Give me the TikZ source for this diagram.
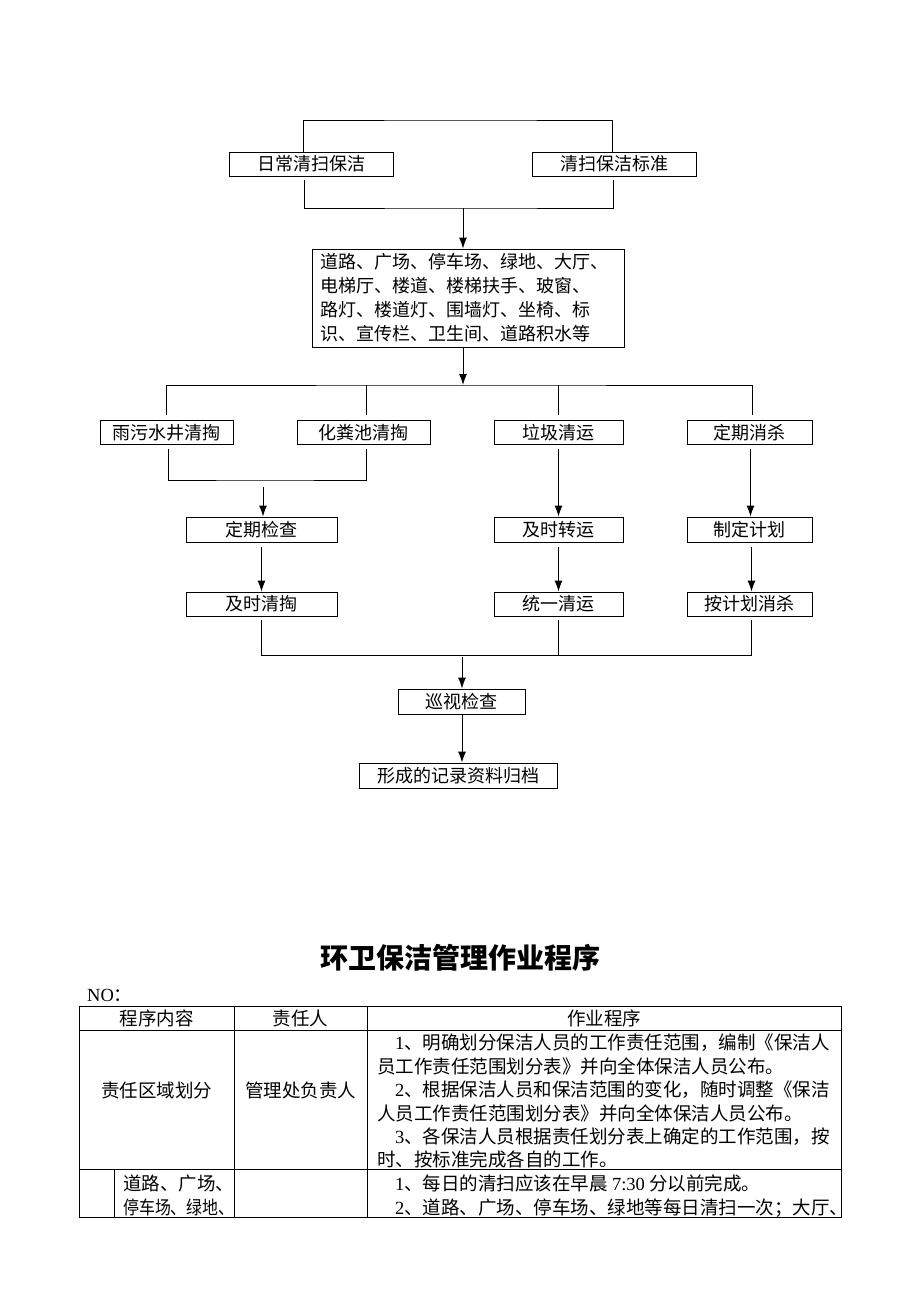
\documentclass[tikz,border=0pt]{standalone}
\usepackage{fontspec}
\setmainfont{Liberation Serif}
\newfontfamily\cjk{Noto Sans CJK SC}
\usetikzlibrary{shapes,arrows.meta,positioning,calc}
\newcommand{\lat}[1]{{\rmfamily #1}}

\begin{document}
\begin{tikzpicture}[x=1pt,y=-1pt]
\tikzstyle{box} = [rectangle, draw, line width=0.8pt, minimum height=24pt, inner sep=0pt, font=\cjk\fontsize{18pt}{24pt}\selectfont]
\tikzstyle{line} = [draw, line width=1pt]
\tikzstyle{flow} = [draw, line width=1pt, -{Latex[length=11pt,width=8pt]}]
\tikzstyle{cell} = [inner sep=0pt, font=\cjk\fontsize{18.5pt}{23.4pt}\selectfont]
\tikzstyle{para} = [cell, align=left, anchor=north west]

\useasboundingbox (0,0) rectangle (920,1302);

% Two starting boxes
\node [box, minimum width=164pt] (daily) at (311,164) {日常清扫保洁};
\node [box, minimum width=164pt] (std) at (614,164) {清扫保洁标准};
\coordinate (topbar) at (463,120);
\coordinate (merge1) at (463,208);
\draw [line] ([xshift=-8pt]daily.north) |- (topbar) -| ([xshift=-2pt]std.north);
\draw [line] ([xshift=-7pt,yshift=-4pt]daily.south) |- (merge1) -| ([xshift=-1pt,yshift=-4pt]std.south);

% Cleaning areas
\node [box, minimum width=312pt, minimum height=98pt, text width=296pt, inner xsep=8pt, align=left] (area) at (468,298)
  {道路、广场、停车场、绿地、大厅、\\电梯厅、楼道、楼梯扶手、玻窗、\\路灯、楼道灯、围墙灯、坐椅、标\\识、宣传栏、卫生间、道路积水等};
\draw [flow] (merge1) -- (merge1 |- area.north);

% Four branches
\node [box, minimum width=133pt] (sewer) at (166.5,432.5) {雨污水井清掏};
\node [box, minimum width=133pt] (septic) at (363.5,432.5) {化粪池清掏};
\node [box, minimum width=129pt] (garbage) at (558.5,432.5) {垃圾清运};
\node [box, minimum width=125pt] (disinfect) at (749.5,432.5) {定期消杀};
\coordinate (split) at (463,385);
\draw [flow] (split |- area.south) -- (split);
\draw [line, shorten <=5pt] (sewer.north) |- (split) -| ([xshift=2.5pt,yshift=5pt]disinfect.north);
\draw [line, shorten <=5pt] ([xshift=2.5pt]septic.north) -- ([xshift=2.5pt]septic.north |- split);
\draw [line, shorten <=5pt] (garbage.north) -- (garbage.north |- split);

% Second and third rows
\node [box, minimum width=151pt, minimum height=25pt] (inspect) at (261.5,529.5) {定期检查};
\node [box, minimum width=151pt] (dredge) at (261.5,604) {及时清掏};
\node [box, minimum width=129pt, minimum height=25pt] (transfer) at (558.5,529.5) {及时转运};
\node [box, minimum width=129pt] (haul) at (558.5,604) {统一清运};
\node [box, minimum width=125pt, minimum height=25pt] (plan) at (749.5,529.5) {制定计划};
\node [box, minimum width=125pt] (kill) at (749.5,604) {按计划消杀};

\coordinate (merge2) at (263,480);
\draw [line] ([xshift=1.5pt,yshift=-4pt]sewer.south) |- (merge2) -| ([xshift=2.5pt,yshift=-4pt]septic.south);
\draw [flow, shorten <=7pt] (merge2) -- (merge2 |- inspect.north);
\draw [flow, shorten <=5pt] (inspect) -- (dredge);
\draw [flow, shorten <=4pt] (garbage) -- (transfer);
\draw [flow, shorten <=5pt] (transfer) -- (haul);
\draw [flow, shorten <=4pt] ([xshift=1pt]disinfect.south) -- ([xshift=1pt]plan.north);
\draw [flow, shorten <=5pt] ([xshift=2pt]plan.south) -- ([xshift=2pt]kill.north);

% Patrol and archive
\node [box, minimum width=127pt, minimum height=25pt] (patrol) at (461.5,701.5) {巡视检查};
\node [box, minimum width=198pt, minimum height=25pt] (archive) at (458,775.5) {形成的记录资料归档};
\coordinate (merge3) at (462,655);
\draw [line] ([yshift=-4pt]dredge.south) |- (merge3) -| ([xshift=2pt,yshift=-4pt]kill.south);
\draw [line] ([yshift=-4pt]haul.south) -- (haul.south |- merge3);
\draw [flow, shorten <=2pt] (merge3) -- (merge3 |- patrol.north);
\draw [flow] (merge3 |- patrol.south) -- (merge3 |- archive.north);

% Title and table
\node [font=\cjk\bfseries\fontsize{28pt}{30pt}\selectfont] (title) at (460,958) {环卫保洁管理作业程序};
\node [anchor=west, inner sep=0pt, font=\fontsize{18.5pt}{20pt}\selectfont] (no) at (87,995) {NO{\cjk ：}};

\draw [line width=0.8pt] (79,1006) rectangle (841,1217);
\draw [line width=0.8pt] (79,1030) -- (841,1030);
\draw [line width=0.8pt] (79,1169) -- (841,1169);
\draw [line width=0.8pt] (234,1006) -- (234,1217);
\draw [line width=0.8pt] (367,1006) -- (367,1217);
\draw [line width=0.8pt] (114,1169) -- (114,1217);

\node [cell] (headA) at (156.5,1018) {程序内容};
\node [cell] (headB) at (300.5,1018) {责任人};
\node [cell] (headC) at (604,1018) {作业程序};

\node [cell] (zone) at (156.5,1090) {责任区域划分};
\node [cell] (manager) at (300.5,1090) {管理处负责人};
\node [para] (zonetext) at (377,1034)
  {\hspace*{18pt}\lat{1}、明确划分保洁人员的工作责任范围，编制《保洁人\\
   员工作责任范围划分表》并向全体保洁人员公布。\\
   \hspace*{18pt}\lat{2}、根据保洁人员和保洁范围的变化，随时调整《保洁\\
   人员工作责任范围划分表》并向全体保洁人员公布。\\
   \hspace*{18pt}\lat{3}、各保洁人员根据责任划分表上确定的工作范围，按\\
   时、按标准完成各自的工作。};

\node [para] (roads) at (123,1175) {道路、广场、\\\scalebox{0.86}[1]{停车场、绿地、}};
\node [para] (roadtext) at (377,1175)
  {\hspace*{18pt}\lat{1}、每日的清扫应该在早晨 \lat{7:30} 分以前完成。\\
   \hspace*{18pt}\lat{2}、道路、广场、停车场、绿地等每日清扫一次；大厅、};

\end{tikzpicture}
\end{document}
